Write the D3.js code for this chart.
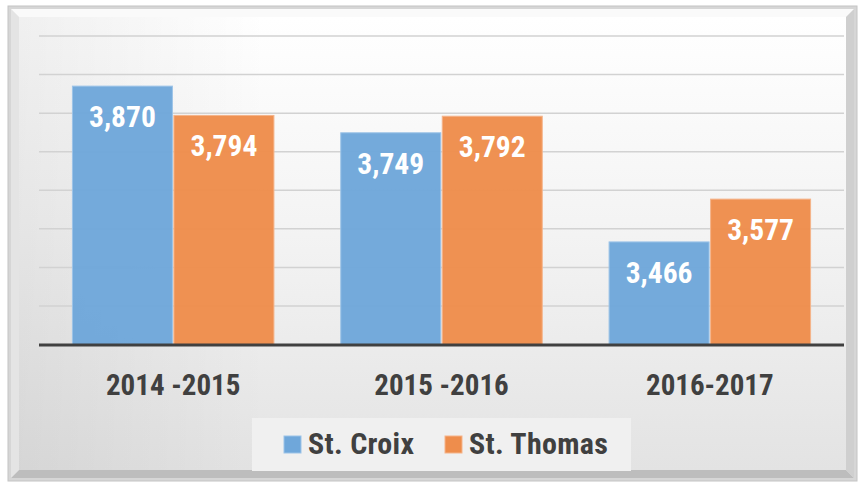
<!DOCTYPE html>
<html><head><meta charset="utf-8">
<script src="https://cdn.jsdelivr.net/npm/d3@7"></script>
<style>html,body{margin:0;padding:0;background:#fff;}svg{display:block;}</style>
</head><body>
<svg id="c" width="860" height="483"></svg>
<script>
const categories = ["2014 -2015", "2015 -2016", "2016-2017"];
const seriesNames = ["St. Croix", "St. Thomas"];
const stCroix = [3870, 3749, 3466];
const stThomas = [3794, 3792, 3577];
const yTicks = [3200, 3300, 3400, 3500, 3600, 3700, 3800, 3900, 4000];

const colors = ["#6fa7da", "#ee8d4c"];
const strokes = ["#9cc3e8", "#f5b48a"];
const FONT = "'Liberation Sans Narrow','Arial Narrow','Roboto Condensed','Liberation Sans',sans-serif";

const svg = d3.select("#c");
const defs = svg.append("defs");
const g1 = defs.append("linearGradient").attr("id","bg").attr("x1",0).attr("y1",0).attr("x2",0).attr("y2",1);
g1.append("stop").attr("offset","0%").attr("stop-color","#ffffff");
g1.append("stop").attr("offset","45%").attr("stop-color","#f4f4f4");
g1.append("stop").attr("offset","100%").attr("stop-color","#e3e3e3");
const g2 = defs.append("linearGradient").attr("id","side").attr("x1",0).attr("y1",0).attr("x2",1).attr("y2",0);
g2.append("stop").attr("offset","0%").attr("stop-color","#000").attr("stop-opacity",0.06);
g2.append("stop").attr("offset","30%").attr("stop-color","#000").attr("stop-opacity",0);
g2.append("stop").attr("offset","100%").attr("stop-color","#000").attr("stop-opacity",0);

// frame
svg.append("rect").attr("x",8).attr("y",6).attr("width",849).attr("height",475)
  .attr("fill","#d6d6d6").attr("stroke","#c4c4c4").attr("stroke-width",1);
svg.append("rect").attr("x",11).attr("y",9).attr("width",843).attr("height",469)
  .attr("fill","#f2f2f2");
// bevel
svg.append("path").attr("d","M11,9 H854 L846,17 H19 Z").attr("fill","#fafafa");
svg.append("path").attr("d","M11,9 V478 L19,470 V17 Z").attr("fill","#e4e4e4");
svg.append("path").attr("d","M854,9 V478 L846,470 V17 Z").attr("fill","#cfcfcf");
svg.append("path").attr("d","M11,478 H854 L846,470 H19 Z").attr("fill","#bdbdbd");
svg.append("rect").attr("x",19).attr("y",17).attr("width",827).attr("height",453).attr("fill","url(#bg)");
svg.append("rect").attr("x",19).attr("y",17).attr("width",827).attr("height",453).attr("fill","url(#side)");

const x = d3.scaleBand().domain(categories).range([39, 844]).padding(0);
const y = d3.scaleLinear().domain([3200, 4000]).range([344.5, 36]);

// gridlines
svg.append("g").selectAll("line").data(yTicks.slice(1)).join("line")
  .attr("x1",39).attr("x2",844).attr("y1",d=>y(d)).attr("y2",d=>y(d))
  .attr("stroke","#d2d2d2").attr("stroke-width",1.5);

const barW = 100, gap = 1.5;
const data = categories.map((c,i)=>({c, vals:[stCroix[i], stThomas[i]]}));
const grp = svg.append("g").selectAll("g").data(data).join("g");
grp.each(function(d){
  const cx = x(d.c) + x.bandwidth()/2;
  const gg = d3.select(this);
  d.vals.forEach((v,j)=>{
    const bx = j===0 ? cx - barW - gap/2 : cx + gap/2;
    gg.append("rect").attr("x",bx).attr("y",y(v)).attr("width",barW).attr("height",y(3200)-y(v))
      .attr("fill",colors[j]).attr("fill-opacity",0.97).attr("stroke",strokes[j]).attr("stroke-width",1);
    gg.append("text").attr("x",bx+barW/2).attr("y",y(v)+41).attr("text-anchor","middle")
      .attr("fill","#fff").attr("font-family",FONT).attr("font-weight","bold").attr("font-size",29.5)
      .text(d3.format(",")(v));
  });
});

// baseline
svg.append("line").attr("x1",39).attr("x2",844).attr("y1",y(3200)+0.5).attr("y2",y(3200)+0.5)
  .attr("stroke","#404040").attr("stroke-width",3);

// category labels
const xAxis = d3.axisBottom(x).tickSize(0).tickPadding(0);
const ax = svg.append("g").attr("transform",`translate(0,${y(3200)})`).call(xAxis);
ax.select(".domain").remove();
ax.selectAll("text").attr("dy",0).attr("y",50)
  .attr("fill","#404040").attr("font-family",FONT).attr("font-weight","bold").attr("font-size",29);

// legend
svg.append("rect").attr("x",252).attr("y",418).attr("width",379).attr("height",53).attr("fill","#f0f0f0");
const legX = [284, 445];
seriesNames.forEach((n,j)=>{
  svg.append("rect").attr("x",legX[j]).attr("y",436).attr("width",17).attr("height",17)
    .attr("fill",colors[j]).attr("stroke",strokes[j]).attr("stroke-width",1);
  svg.append("text").attr("x",legX[j]+24).attr("y",454).attr("fill","#404040")
    .attr("font-family",FONT).attr("font-weight","bold").attr("font-size",30).attr("letter-spacing",0.3).text(n);
});
</script>
</body></html>
